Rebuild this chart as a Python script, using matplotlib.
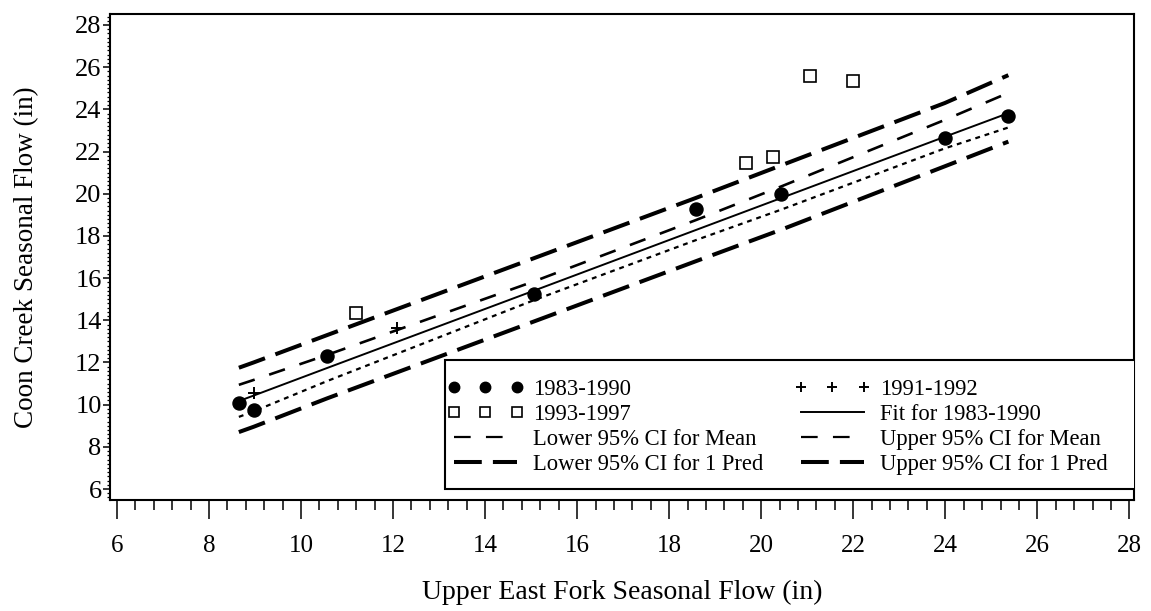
import matplotlib
matplotlib.use("Agg")
import matplotlib.pyplot as plt
from matplotlib.lines import Line2D
from matplotlib.patches import Rectangle
from matplotlib.ticker import MultipleLocator

plt.rcParams['font.family'] = ['Liberation Serif', 'DejaVu Serif']
plt.rcParams['lines.scale_dashes'] = False

# data
x83 = [8.65, 8.97, 10.57, 15.07, 18.58, 20.44, 23.99, 25.37]
y83 = [10.08, 9.75, 12.30, 15.25, 19.28, 19.99, 22.65, 23.69]
x91 = [8.97, 12.08]
y91 = [10.55, 13.63]
x93 = [11.19, 19.68, 20.26, 21.06, 22.00]
y93 = [14.35, 21.46, 21.74, 25.58, 25.35]

# fitted line and bands, at the 1983-1990 x values
fit = [10.17, 10.43, 11.74, 15.41, 18.28, 19.80, 22.70, 23.82]
upper_mean = [10.94, 11.17, 12.36, 15.85, 18.75, 20.35, 23.50, 24.78]
lower_mean = [9.42, 9.68, 11.12, 14.96, 17.80, 19.25, 22.15, 23.14]
upper_pred = [11.75, 12.00, 13.30, 16.95, 19.80, 21.35, 24.30, 25.62]
lower_pred = [8.70, 8.95, 10.30, 13.95, 16.80, 18.30, 21.30, 22.47]

labels = ['1983-1990', '1991-1992', '1993-1997', 'Fit for 1983-1990',
          'Lower 95% CI for Mean', 'Upper 95% CI for Mean',
          'Lower 95% CI for 1 Pred', 'Upper 95% CI for 1 Pred']

W, H = 1151, 611
fig = plt.figure(figsize=(W / 100, H / 100), dpi=100)
ax = fig.add_axes([110 / W, 1 - 500 / H, (1134 - 110) / W, (500 - 14) / H])

pred_dash = (20, 8)
mean_dash = (12, 11)

ax.plot(x83, upper_pred, color='k', lw=2.9, dashes=pred_dash)
ax.plot(x83, lower_pred, color='k', lw=2.9, dashes=pred_dash)
ax.plot(x83, upper_mean, color='k', lw=1.9, dashes=mean_dash)
ax.plot(x83, lower_mean, color='k', lw=1.6, dashes=(3.5, 3.5))
ax.plot(x83, fit, color='k', lw=1.4)

ax.plot(x83, y83, 'o', color='k', ms=9.4, ls='none')
ax.plot(x91, y91, '+', color='k', ms=9, mew=1.4, ls='none')
ax.plot(x93, y93, 's', mfc='none', mec='k', ms=8.5, mew=1.2, ls='none')

ax.set_xlim(5.85, 28.1)
ax.set_ylim(5.48, 28.52)
ax.xaxis.set_major_locator(MultipleLocator(2))
ax.xaxis.set_minor_locator(MultipleLocator(0.4))
ax.yaxis.set_major_locator(MultipleLocator(2))
ax.yaxis.set_minor_locator(MultipleLocator(0.2))
ax.tick_params(axis='x', which='major', direction='out', length=14, width=1.1,
               labelsize=18, pad=11)
ax.tick_params(axis='x', which='minor', direction='out', length=7, width=1.1)
ax.tick_params(axis='y', which='major', direction='out', length=5, width=1.1,
               labelsize=19, pad=1)
ax.tick_params(axis='y', which='minor', direction='out', length=2.5, width=0.9)
for s in ax.spines.values():
    s.set_linewidth(1.5)

ax.set_xlabel('Upper East Fork Seasonal Flow (in)', fontsize=20, labelpad=17)
ax.set_ylabel('Coon Creek Seasonal Flow (in)', fontsize=19.5, labelpad=26)

# legend box
box = Rectangle((445 / W, 1 - 489 / H), (1136 - 445) / W, (489 - 360) / H,
                transform=fig.transFigure, facecolor='white', edgecolor='k',
                lw=1.5, zorder=4)
ax.add_patch(box)

h_dot = Line2D([], [], marker='o', color='k', ls='none', ms=9.4)
h_plus = Line2D([], [], marker='+', color='k', ls='none', ms=9, mew=1.4)
h_sq = Line2D([], [], marker='s', mfc='none', mec='k', ls='none', ms=8.5, mew=1.2)
h_fit = Line2D([], [], color='k', lw=1.4)
h_mean = Line2D([], [], color='k', lw=1.6, dashes=(12, 11))
h_pred = Line2D([], [], color='k', lw=2.9, dashes=(20, 8))
handles = [h_dot, h_sq, h_mean, h_pred, h_plus, h_fit, h_mean, h_pred]
order = [labels[0], labels[2], labels[4], labels[6],
         labels[1], labels[3], labels[5], labels[7]]
leg = ax.legend(handles, order, ncol=2, numpoints=3, markerscale=0.8,
                loc='upper left', bbox_to_anchor=(447 / W, 1 - 379 / H),
                bbox_transform=fig.transFigure, borderaxespad=0, borderpad=0,
                fontsize=16.3, handlelength=3.4, handletextpad=0.4,
                columnspacing=1.35, labelspacing=0.18, frameon=False)
leg.set_zorder(5)

fig.savefig('out.png', dpi=100)
